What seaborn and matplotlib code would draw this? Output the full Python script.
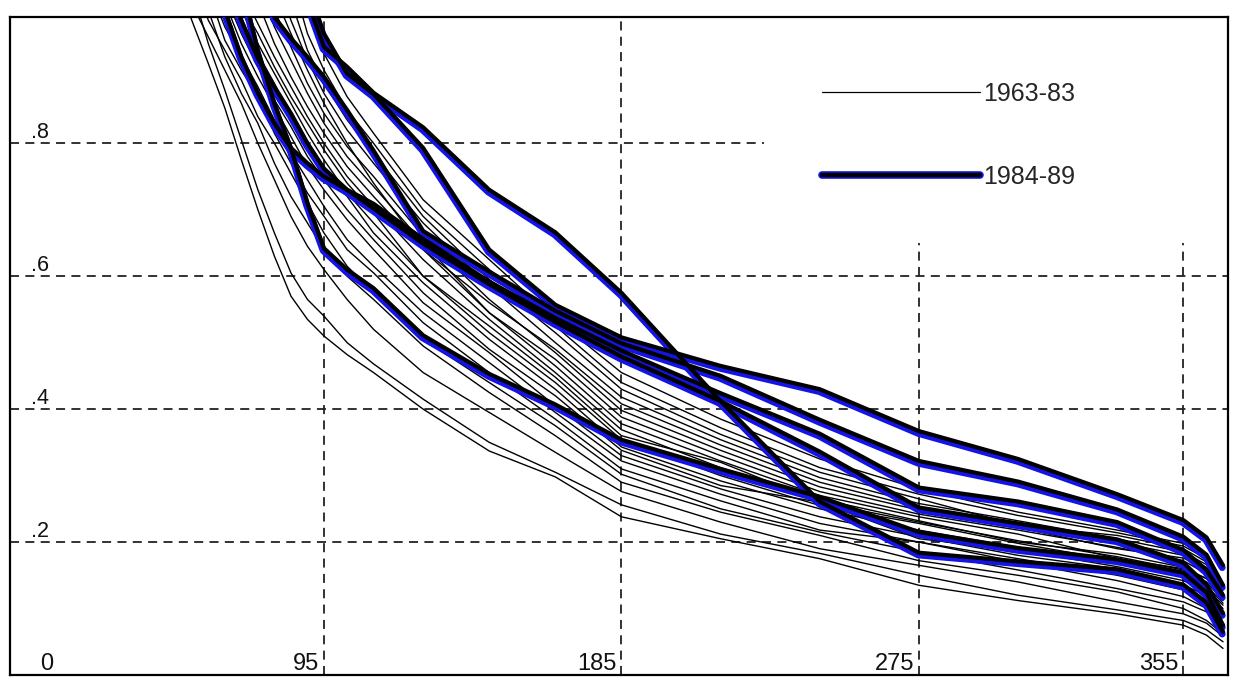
import numpy as np
import pandas as pd
import matplotlib
matplotlib.use("Agg")
import matplotlib.pyplot as plt
import matplotlib.transforms as mtransforms
from matplotlib.lines import Line2D
import seaborn as sns

# ---------------- data ----------------
days = [55, 60, 65, 70, 75, 80, 85, 90, 95, 102, 110, 125, 145, 165, 185, 215, 245, 275, 305, 335, 355, 362, 367]
N = None

# 1963-83 (thin lines): start day (curve leaves the top) and values at `days`
thin_starts = [54, 57, 56, 60, 59, 62, 63, 66, 67, 68, 70, 71, 73, 76, 78, 80, 82, 84, 86, 88, 90]
t01 = [0.985, 0.92, 0.853, 0.775, 0.70, 0.63, 0.57, 0.535, 0.51, 0.482, 0.455, 0.40, 0.337, 0.298, 0.238, 0.205, 0.175, 0.135, 0.112, 0.092, 0.075, 0.06, 0.04]
t02 = [N, 0.95, 0.88, 0.805, 0.73, 0.665, 0.605, 0.565, 0.54, 0.50, 0.468, 0.415, 0.35, 0.305, 0.256, 0.212, 0.183, 0.15, 0.12, 0.098, 0.082, 0.068, 0.05]
t03 = [N, 0.96, 0.91, 0.86, 0.80, 0.745, 0.69, 0.645, 0.61, 0.565, 0.52, 0.455, 0.395, 0.335, 0.276, 0.23, 0.19, 0.165, 0.14, 0.11, 0.092, 0.078, 0.058]
t04 = [N, N, 0.93, 0.875, 0.83, 0.77, 0.72, 0.68, 0.64, 0.60, 0.565, 0.495, 0.425, 0.36, 0.29, 0.245, 0.21, 0.172, 0.15, 0.125, 0.10, 0.082, 0.062]
t05 = [N, 0.985, 0.94, 0.895, 0.84, 0.80, 0.755, 0.71, 0.665, 0.615, 0.575, 0.505, 0.44, 0.375, 0.302, 0.25, 0.215, 0.185, 0.158, 0.13, 0.11, 0.095, 0.07]
t06 = [N, N, 0.955, 0.91, 0.87, 0.815, 0.77, 0.725, 0.69, 0.64, 0.605, 0.53, 0.455, 0.385, 0.31, 0.262, 0.218, 0.20, 0.17, 0.142, 0.118, 0.10, 0.078]
t07 = [N, N, 0.975, 0.93, 0.885, 0.835, 0.785, 0.745, 0.705, 0.655, 0.615, 0.545, 0.47, 0.395, 0.322, 0.272, 0.228, 0.20, 0.175, 0.15, 0.128, 0.112, 0.088]
t08 = [N, N, N, 0.95, 0.90, 0.855, 0.81, 0.765, 0.73, 0.685, 0.64, 0.56, 0.485, 0.405, 0.33, 0.28, 0.238, 0.208, 0.18, 0.16, 0.135, 0.12, 0.095]
t09 = [N, N, N, 0.965, 0.915, 0.865, 0.825, 0.78, 0.745, 0.70, 0.655, 0.575, 0.49, 0.42, 0.338, 0.285, 0.26, 0.205, 0.188, 0.163, 0.142, 0.125, 0.10]
t10 = [N, N, N, 0.985, 0.935, 0.89, 0.84, 0.80, 0.76, 0.72, 0.665, 0.59, 0.505, 0.43, 0.343, 0.292, 0.25, 0.218, 0.192, 0.168, 0.148, 0.13, 0.105]
t11 = [N, N, N, N, 0.95, 0.905, 0.86, 0.815, 0.775, 0.725, 0.68, 0.60, 0.515, 0.44, 0.354, 0.30, 0.255, 0.228, 0.198, 0.172, 0.152, 0.135, 0.108]
t12 = [N, N, N, N, 0.965, 0.915, 0.87, 0.83, 0.79, 0.74, 0.695, 0.60, 0.525, 0.448, 0.36, 0.32, 0.26, 0.23, 0.202, 0.178, 0.158, 0.14, 0.112]
t13 = [N, N, N, N, 0.98, 0.93, 0.885, 0.84, 0.80, 0.75, 0.705, 0.625, 0.535, 0.455, 0.369, 0.312, 0.265, 0.232, 0.20, 0.182, 0.162, 0.145, 0.118]
t14 = [N, N, N, N, N, 0.95, 0.90, 0.855, 0.815, 0.765, 0.72, 0.64, 0.545, 0.465, 0.378, 0.322, 0.27, 0.238, 0.212, 0.175, 0.16, 0.145, 0.12]
t15 = [N, N, N, N, N, 0.975, 0.925, 0.875, 0.83, 0.78, 0.735, 0.65, 0.545, 0.475, 0.388, 0.33, 0.276, 0.242, 0.218, 0.192, 0.172, 0.152, 0.124]
t16 = [N, N, N, N, N, N, 0.945, 0.89, 0.845, 0.795, 0.75, 0.66, 0.565, 0.485, 0.398, 0.338, 0.283, 0.248, 0.222, 0.19, 0.176, 0.158, 0.128]
t17 = [N, N, N, N, N, N, 0.965, 0.91, 0.86, 0.80, 0.74, 0.64, 0.56, 0.49, 0.408, 0.346, 0.29, 0.252, 0.228, 0.20, 0.18, 0.162, 0.13]
t18 = [N, N, N, N, N, N, 0.985, 0.925, 0.875, 0.82, 0.77, 0.68, 0.585, 0.50, 0.418, 0.354, 0.297, 0.258, 0.232, 0.205, 0.185, 0.166, 0.132]
t19 = [N, N, N, N, N, N, N, 0.94, 0.89, 0.835, 0.785, 0.69, 0.595, 0.515, 0.43, 0.362, 0.305, 0.265, 0.225, 0.21, 0.19, 0.17, 0.134]
t20 = [N, N, N, N, N, N, N, 0.965, 0.91, 0.85, 0.80, 0.70, 0.61, 0.525, 0.44, 0.372, 0.312, 0.272, 0.24, 0.214, 0.194, 0.175, 0.136]
t21 = [N, N, N, N, N, N, N, N, 0.935, 0.87, 0.815, 0.715, 0.625, 0.535, 0.455, 0.385, 0.325, 0.28, 0.245, 0.218, 0.198, 0.18, 0.138]
thin_series = [t01, t02, t03, t04, t05, t06, t07, t08, t09, t10, t11, t12, t13,
               t14, t15, t16, t17, t18, t19, t20, t21]

# 1984-89 (thick lines)
thick_starts = [92.5, 91, 79.5, 65, 69, 72]
k1 = [N, N, N, N, N, N, N, N, 0.965, 0.905, 0.874, 0.793, 0.640, 0.557, 0.508, 0.465, 0.430, 0.367, 0.325, 0.272, 0.233, 0.207, 0.165]
k2 = [N, N, N, N, N, N, N, N, 0.945, 0.915, 0.876, 0.824, 0.730, 0.666, 0.575, 0.412, 0.261, 0.184, 0.171, 0.159, 0.136, 0.109, 0.065]
k3 = [N, N, N, N, N, 0.99, 0.958, 0.93, 0.90, 0.85, 0.789, 0.668, 0.607, 0.548, 0.499, 0.450, 0.384, 0.322, 0.291, 0.249, 0.208, 0.181, 0.135]
k4 = [N, N, N, 0.93, 0.876, 0.83, 0.793, 0.77, 0.75, 0.73, 0.709, 0.656, 0.592, 0.537, 0.488, 0.424, 0.363, 0.282, 0.261, 0.230, 0.188, 0.158, 0.120]
k5 = [N, N, N, 0.985, 0.928, 0.885, 0.845, 0.80, 0.762, 0.73, 0.702, 0.649, 0.588, 0.531, 0.479, 0.412, 0.336, 0.252, 0.228, 0.204, 0.169, 0.136, 0.093]
k6 = [N, N, N, N, 0.94, 0.86, 0.793, 0.71, 0.642, 0.61, 0.582, 0.511, 0.453, 0.407, 0.354, 0.310, 0.268, 0.215, 0.191, 0.174, 0.154, 0.124, 0.075]
thick_series = [k1, k2, k3, k4, k5, k6]

top_value = 1.0

grid_y = [0.2, 0.4, 0.6, 0.8]
grid_y_end = [368.5, 368.5, 368.5, 228]
grid_x = [95, 185, 275, 355]
grid_x_top = [0.99, 0.99, 0.65, 0.65]
ylabels = [".2", ".4", ".6", ".8"]
xlabels = ["95", "185", "275", "355"]
legend_labels = ["1963-83", "1984-89"]


def to_long(starts, series, prefix):
    rows = []
    for i, (s, vals) in enumerate(zip(starts, series)):
        assert len(vals) == len(days), (prefix, i, len(vals))
        rows.append((f"{prefix}{i}", s, top_value))
        for d, v in zip(days, vals):
            if v is not None and d > s:
                rows.append((f"{prefix}{i}", d, v))
    return pd.DataFrame(rows, columns=["line", "day", "value"])


thin_df = to_long(thin_starts, thin_series, "t")
thick_df = to_long(thick_starts, thick_series, "k")

# ---------------- figure ----------------
sns.set_style("white")
plt.rcParams["font.family"] = ["Liberation Sans", "DejaVu Sans"]

fig = plt.figure(figsize=(12.35, 6.78), dpi=100)
ax = fig.add_axes([10 / 1235, 3 / 678, 1218 / 1235, 658 / 678])
ax.set_xlim(0, 368.5)
ax.set_ylim(0, 0.99)

dash = (0, (5, 3.5))
ax.hlines(grid_y, 0, grid_y_end, colors="#222222", linewidth=1.3, linestyles=[dash], zorder=1)
ax.vlines(grid_x, 0, grid_x_top, colors="#222222", linewidth=1.3, linestyles=[dash], zorder=1)

sns.lineplot(data=thin_df, x="day", y="value", units="line", estimator=None, sort=False,
             color="black", linewidth=1.0, legend=False, ax=ax, zorder=2)

blue = "#1414e6"
offset = mtransforms.ScaledTranslation(-0.6 / 72, -1.6 / 72, fig.dpi_scale_trans)
sns.lineplot(data=thick_df, x="day", y="value", units="line", estimator=None, sort=False,
             color=blue, linewidth=5.0, legend=False, ax=ax, zorder=3,
             transform=ax.transData + offset, solid_capstyle="round", solid_joinstyle="round")
sns.lineplot(data=thick_df, x="day", y="value", units="line", estimator=None, sort=False,
             color="black", linewidth=3.0, legend=False, ax=ax, zorder=4,
             solid_capstyle="round", solid_joinstyle="round")

ax.set_xticks([])
ax.set_yticks([])
ax.set_xlabel("")
ax.set_ylabel("")
for sp in ax.spines.values():
    sp.set_visible(True)
    sp.set_color("black")
    sp.set_linewidth(1.6)

for y, lab in zip(grid_y, ylabels):
    ax.text(6.5, y + 0.0075, lab, fontsize=15.5, ha="left", va="baseline", color="#111111")
for x, lab in zip(grid_x, xlabels):
    ax.text(x - 1.5, 0.008, lab, fontsize=17, ha="right", va="baseline", color="#111111")
ax.text(11, 0.008, "0", fontsize=17, ha="center", va="baseline", color="#111111")

h_thin = Line2D([], [], color="black", linewidth=0.9)
h_blue = Line2D([], [], color=blue, linewidth=5.5)
h_black = Line2D([], [], color="black", linewidth=3.2)
ax.legend([h_thin, (h_blue, h_black)], legend_labels, loc="upper left",
          bbox_to_anchor=(0.667, 0.901), frameon=False, fontsize=18,
          handlelength=6.3, handletextpad=0.12, labelspacing=2.35,
          borderpad=0, borderaxespad=0)

fig.savefig("out.png", dpi=100, facecolor="white")
